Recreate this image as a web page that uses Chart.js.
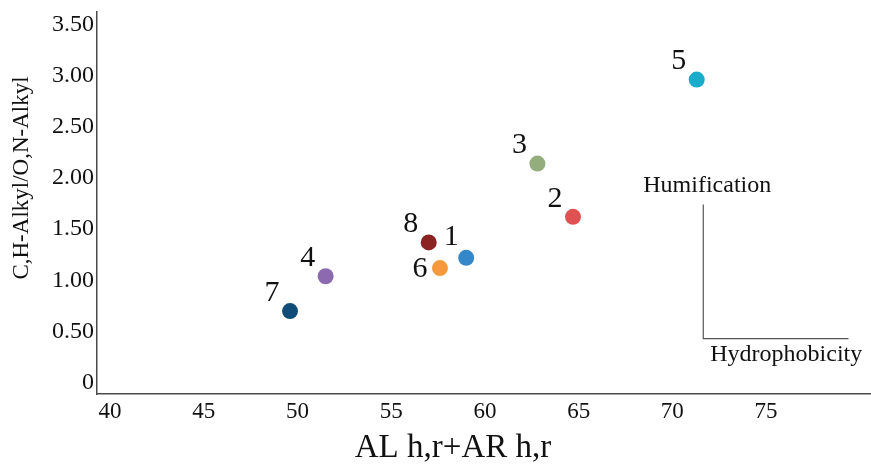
<!DOCTYPE html>
<html>
<head>
<meta charset="utf-8">
<script src="https://cdn.jsdelivr.net/npm/chart.js@4"></script>
<style>
  body { margin: 0; background: #fff; }
  #wrap { width: 871px; height: 464px; }
</style>
</head>
<body>
<div id="wrap"><canvas id="plot" width="871" height="464"></canvas></div>
<script>
// Sample numbers and their values
var sampleNames = ['1', '2', '3', '4', '5', '6', '7', '8'];
var xValues = [59.0, 64.7, 62.8, 51.5, 71.3, 57.6, 49.6, 57.0];
var yValues = [1.22, 1.62, 2.14, 1.04, 2.96, 1.12, 0.70, 1.37];

// Axis ticks
var xTicks = [40, 45, 50, 55, 60, 65, 70, 75];
var yTicks = [0, 0.5, 1, 1.5, 2, 2.5, 3, 3.5];

var pointColors = [
    '#3487c9', '#e05252', '#93ae7c', '#8d69af', '#1babcb', '#f5993c', '#0f4c77', '#8c2323'
];

var serif = '"Liberation Serif", "Times New Roman", serif';
var axisColor = '#4a4a4a';

var points = [];
for (var i = 0; i < sampleNames.length; i++) {
    points.push({ x: xValues[i], y: yValues[i] });
}

// Number next to each point (up-left, except 6 which sits on the left)
var pointNumbers = {
    id: 'pointNumbers',
    afterDatasetsDraw: function(chart) {
        var ctx = chart.ctx;
        var meta = chart.getDatasetMeta(0);
        ctx.save();
        ctx.font = '30px ' + serif;
        ctx.fillStyle = '#111';
        ctx.textAlign = 'center';
        ctx.textBaseline = 'middle';
        for (var i = 0; i < meta.data.length; i++) {
            var p = meta.data[i];
            if (sampleNames[i] == '6')
                ctx.fillText(sampleNames[i], p.x - 20, p.y + 1);
            else if (sampleNames[i] == '1')
                ctx.fillText(sampleNames[i], p.x - 15, p.y - 21);
            else
                ctx.fillText(sampleNames[i], p.x - 18, p.y - 18);
        }
        ctx.restore();
    }
};

// Humification / Hydrophobicity corner, plus both axis titles
// (the originals sit off-centre, so they are drawn by hand)
var corner = {
    id: 'corner',
    afterDraw: function(chart) {
        var ctx = chart.ctx;
        var xs = chart.scales.x, ys = chart.scales.y;
        var x0 = xs.getPixelForValue(71.65);
        var x1 = xs.getPixelForValue(79.4);
        var yTop = ys.getPixelForValue(1.74);
        var yBot = ys.getPixelForValue(0.43);
        ctx.save();
        ctx.strokeStyle = '#555';
        ctx.lineWidth = 1.2;
        ctx.beginPath();
        ctx.moveTo(x0, yTop);
        ctx.lineTo(x0, yBot);
        ctx.lineTo(x1, yBot);
        ctx.stroke();

        ctx.font = '24px ' + serif;
        ctx.fillStyle = '#111';
        ctx.textAlign = 'center';
        ctx.textBaseline = 'middle';
        ctx.fillText('Humification', x0 + 4, yTop - 19);
        ctx.fillText('Hydrophobicity', x0 + 83, yBot + 16);

        ctx.font = '33px ' + serif;
        ctx.textBaseline = 'alphabetic';
        ctx.fillText('AL h,r+AR h,r', 453, 457);

        ctx.translate(22, 178);
        ctx.rotate(-Math.PI / 2);
        ctx.textBaseline = 'middle';
        ctx.font = '23px ' + serif;
        ctx.fillText('C,H-Alkyl/O,N-Alkyl', 0, 0);
        ctx.restore();
    }
};

new Chart(document.getElementById('plot'), {
    type: 'scatter',
    data: {
        datasets: [{
            data: points,
            backgroundColor: pointColors,
            borderWidth: 0,
            pointRadius: 8,
            pointHoverRadius: 8
        }]
    },
    options: {
        responsive: false,
        animation: false,
        layout: { autoPadding: false, padding: { top: 12, right: 0, left: 0, bottom: 0 } },
        plugins: {
            legend: { display: false },
            tooltip: { enabled: false }
        },
        scales: {
            x: {
                type: 'linear',
                min: 39.3,
                max: 80.6,
                afterBuildTicks: function(scale) {
                    scale.ticks = xTicks.map(function(v) { return { value: v }; });
                },
                afterFit: function(scale) {
                    scale.height = 70;
                    scale.paddingLeft = 0;
                    scale.paddingRight = 0;
                },
                grid: { display: false, drawTicks: false },
                border: { color: axisColor, width: 1.5 },
                ticks: {
                    color: '#111',
                    padding: 4,
                    maxRotation: 0,
                    font: { family: serif, size: 23 }
                }
            },
            y: {
                type: 'linear',
                min: -0.11,
                max: 3.62,
                afterBuildTicks: function(scale) {
                    scale.ticks = yTicks.map(function(v) { return { value: v }; });
                },
                afterFit: function(scale) {
                    scale.width = 97;
                    scale.paddingTop = 0;
                    scale.paddingBottom = 0;
                },
                grid: { display: false, drawTicks: false },
                border: { color: axisColor, width: 1.5 },
                ticks: {
                    color: '#111',
                    padding: 3,
                    font: { family: serif, size: 24 },
                    callback: function(v) { return v == 0 ? '0' : v.toFixed(2); }
                }
            }
        }
    },
    plugins: [pointNumbers, corner]
});
</script>
</body>
</html>
